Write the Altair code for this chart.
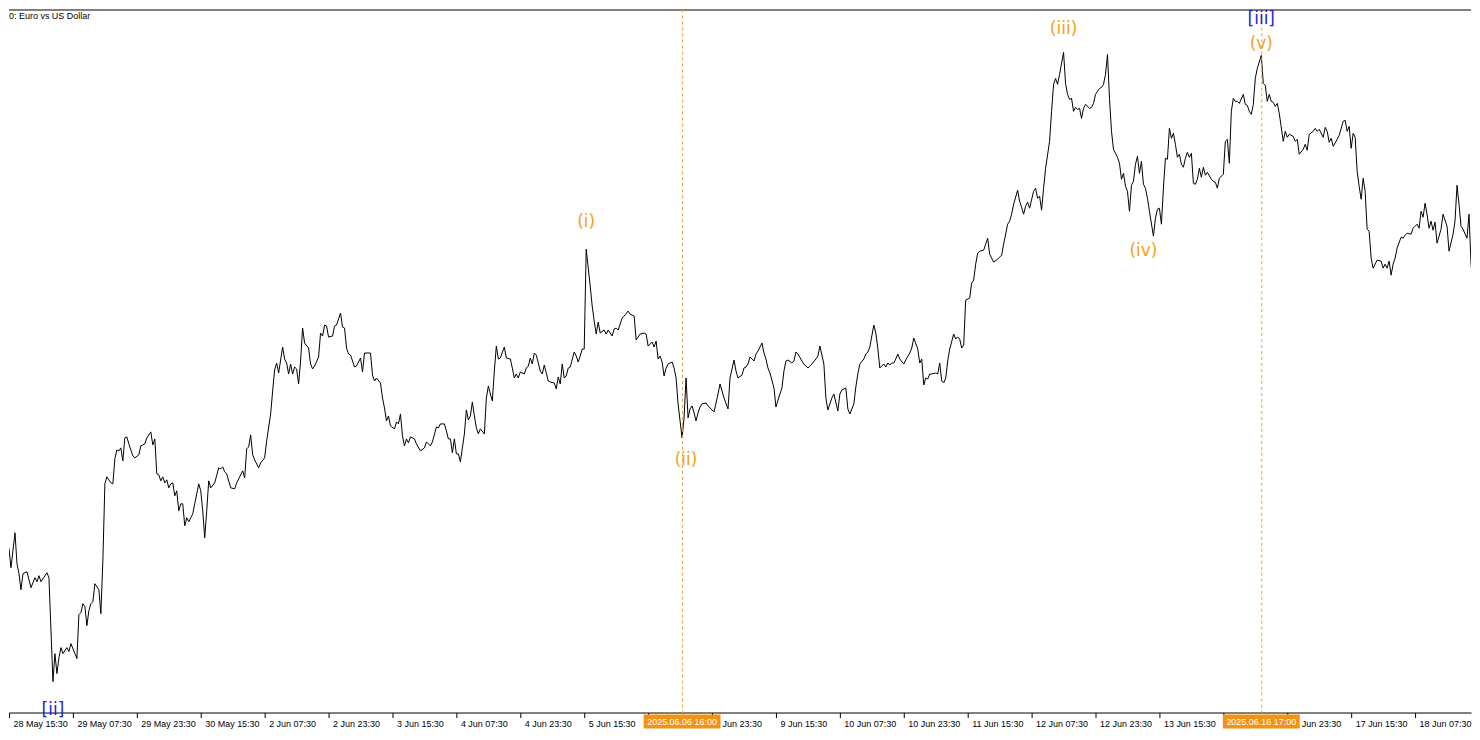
import json
import altair as alt
import pandas as pd

# ---- price series: EURUSD M30 closes (bar index counted from 28 May 15:30, 30-min bars) ----
bars = [
    -3, -1, 0, 1, 3, 4, 5, 6, 7, 9,
    11, 13, 14, 15, 16, 18, 19, 20, 22, 23,
    24, 25, 26, 27, 29, 30, 31, 33, 34, 35,
    36, 37, 38, 39, 40, 41, 42, 43, 45, 46,
    47, 48, 49, 51, 52, 53, 54, 55, 56, 57,
    58, 59, 60, 62, 63, 65, 66, 68, 69, 71,
    72, 73, 74, 75, 76, 77, 78, 79, 80, 81,
    82, 83, 84, 85, 86, 87, 88, 89, 90, 91,
    92, 93, 95, 96, 97, 98, 99, 100, 101, 103,
    105, 106, 107, 108, 109, 111, 113, 114, 115, 117,
    118, 119, 120, 121, 122, 123, 125, 126, 128, 129,
    131, 132, 133, 134, 135, 136, 137, 138, 139, 140,
    141, 142, 143, 144, 145, 146, 147, 148, 150, 151,
    152, 153, 155, 156, 157, 158, 159, 160, 162, 163,
    164, 166, 167, 168, 169, 170, 171, 173, 174, 176,
    177, 178, 181, 182, 183, 184, 186, 187, 188, 189,
    190, 191, 193, 194, 195, 196, 197, 198, 199, 200,
    201, 203, 204, 206, 208, 209, 211, 212, 214, 215,
    216, 218, 219, 220, 221, 222, 223, 224, 225, 226,
    227, 228, 229, 230, 231, 232, 233, 234, 235, 236,
    238, 239, 240, 241, 242, 243, 244, 245, 246, 248,
    249, 251, 252, 253, 254, 255, 256, 258, 259, 260,
    261, 262, 263, 264, 266, 267, 268, 270, 271, 273,
    274, 275, 276, 277, 278, 279, 280, 281, 283, 284,
    285, 286, 287, 288, 289, 291, 292, 293, 294, 295,
    296, 298, 299, 300, 302, 303, 304, 305, 307, 308,
    310, 311, 313, 314, 316, 318, 319, 320, 322, 323,
    324, 325, 326, 327, 328, 329, 330, 332, 333, 334,
    335, 337, 338, 339, 340, 341, 342, 343, 344, 345,
    346, 347, 349, 350, 352, 353, 355, 356, 358, 360,
    361, 363, 364, 365, 367, 368, 369, 370, 371, 373,
    374, 375, 377, 378, 379, 380, 381, 383, 384, 386,
    387, 388, 389, 390, 392, 393, 394, 395, 397, 398,
    400, 402, 404, 405, 406, 408, 409, 410, 412, 413,
    415, 416, 417, 419, 420, 421, 423, 424, 425, 426,
    428, 429, 430, 431, 433, 434, 435, 436, 438, 439,
    440, 441, 442, 443, 444, 445, 446, 448, 449, 451,
    452, 453, 455, 456, 457, 458, 459, 460, 461, 462,
    464, 465, 466, 467, 468, 469, 470, 471, 473, 474,
    475, 476, 477, 478, 479, 481, 482, 483, 484, 485,
    486, 488, 489, 490, 491, 492, 493, 495, 496, 497,
    498, 500, 501, 502, 503, 505, 506, 507, 508, 509,
    510, 511, 513, 514, 515, 516, 517, 518, 519, 521,
    522, 523, 524, 525, 526, 528, 529, 530, 531, 532,
    533, 534, 535, 536, 537, 538, 539, 541, 542, 543,
    544, 546, 547, 548, 549, 550, 551, 552, 553, 554,
    555, 556, 557, 558, 559, 560, 561, 562, 563, 564,
    565, 566, 567, 568, 569, 570, 571, 573, 574, 575,
    576, 577, 578, 579, 580, 581, 582, 583, 584, 585,
    586, 587, 588, 589, 590, 591, 592, 593, 594, 595,
    596, 597, 598, 599, 600, 602, 603, 604, 605, 606,
    608, 609, 610, 611, 612, 613, 614, 615, 616, 618,
    619, 620, 621, 622, 623, 624, 625, 627, 628, 629,
    630, 631, 632, 633, 634, 635, 636, 638, 639, 640,
    641, 643, 644, 645, 646, 648, 649, 650, 651, 653,
    654, 655, 656, 658, 659, 660, 661, 662, 663, 665,
    666, 668, 669, 670, 671, 672, 673, 674, 675, 676,
    677, 678, 679, 680, 681, 682, 683, 684, 685, 687,
    688, 689, 690, 691, 692, 693, 694, 695, 697, 698,
    699, 700, 702, 703, 704, 705, 706, 707, 708, 709,
    710, 711, 712, 713, 714, 715, 717, 718, 720, 721,
    723, 724, 725, 726, 727, 728, 730, 731, 732, 733,
    734, 735, 736,
]

closes = [
    1.1273, 1.1257, 1.1252, 1.1233, 1.1268, 1.1237, 1.1227, 1.1211, 1.1227, 1.1229,
    1.1213, 1.1223, 1.1219, 1.1225, 1.1219, 1.1225, 1.1228, 1.1223, 1.1119, 1.1147,
    1.1127, 1.1143, 1.1153, 1.1147, 1.1153, 1.1149, 1.1157, 1.1147, 1.1142, 1.1186,
    1.1188, 1.1197, 1.1194, 1.1175, 1.1190, 1.1197, 1.1199, 1.1217, 1.1211, 1.1187,
    1.1240, 1.1317, 1.1324, 1.1318, 1.1317, 1.1342, 1.1351, 1.1350, 1.1353, 1.1340,
    1.1363, 1.1364, 1.1357, 1.1345, 1.1343, 1.1346, 1.1355, 1.1357, 1.1363, 1.1369,
    1.1356, 1.1362, 1.1327, 1.1326, 1.1320, 1.1324, 1.1318, 1.1321, 1.1313, 1.1317,
    1.1318, 1.1305, 1.1310, 1.1290, 1.1297, 1.1297, 1.1275, 1.1283, 1.1279, 1.1283,
    1.1287, 1.1297, 1.1317, 1.1310, 1.1290, 1.1263, 1.1290, 1.1320, 1.1313, 1.1318,
    1.1333, 1.1332, 1.1334, 1.1329, 1.1327, 1.1313, 1.1312, 1.1318, 1.1322, 1.1330,
    1.1323, 1.1352, 1.1354, 1.1366, 1.1346, 1.1341, 1.1333, 1.1338, 1.1343, 1.1360,
    1.1387, 1.1410, 1.1431, 1.1438, 1.1428, 1.1441, 1.1454, 1.1442, 1.1438, 1.1427,
    1.1437, 1.1427, 1.1434, 1.1432, 1.1417, 1.1440, 1.1473, 1.1458, 1.1453, 1.1437,
    1.1432, 1.1435, 1.1444, 1.1468, 1.1465, 1.1476, 1.1475, 1.1464, 1.1465, 1.1475,
    1.1476, 1.1488, 1.1474, 1.1473, 1.1453, 1.1447, 1.1446, 1.1434, 1.1435, 1.1443,
    1.1429, 1.1448, 1.1448, 1.1426, 1.1420, 1.1423, 1.1418, 1.1403, 1.1393, 1.1380,
    1.1385, 1.1375, 1.1372, 1.1379, 1.1377, 1.1387, 1.1365, 1.1355, 1.1362, 1.1358,
    1.1364, 1.1362, 1.1357, 1.1350, 1.1353, 1.1359, 1.1355, 1.1359, 1.1374, 1.1373,
    1.1377, 1.1377, 1.1370, 1.1362, 1.1362, 1.1348, 1.1362, 1.1347, 1.1347, 1.1339,
    1.1353, 1.1367, 1.1391, 1.1381, 1.1385, 1.1399, 1.1385, 1.1373, 1.1367, 1.1372,
    1.1367, 1.1403, 1.1415, 1.1407, 1.1400, 1.1430, 1.1455, 1.1442, 1.1443, 1.1454,
    1.1443, 1.1442, 1.1433, 1.1423, 1.1427, 1.1423, 1.1429, 1.1427, 1.1433, 1.1435,
    1.1443, 1.1437, 1.1448, 1.1446, 1.1430, 1.1427, 1.1436, 1.1420, 1.1419, 1.1418,
    1.1412, 1.1424, 1.1417, 1.1437, 1.1423, 1.1425, 1.1433, 1.1434, 1.1449, 1.1445,
    1.1439, 1.1445, 1.1452, 1.1452, 1.1552, 1.1515, 1.1495, 1.1480, 1.1467, 1.1479,
    1.1468, 1.1471, 1.1467, 1.1471, 1.1465, 1.1472, 1.1473, 1.1471, 1.1483, 1.1485,
    1.1490, 1.1487, 1.1485, 1.1461, 1.1467, 1.1468, 1.1467, 1.1455, 1.1459, 1.1454,
    1.1460, 1.1442, 1.1445, 1.1439, 1.1425, 1.1433, 1.1437, 1.1439, 1.1433, 1.1423,
    1.1397, 1.1363, 1.1383, 1.1423, 1.1383, 1.1392, 1.1395, 1.1388, 1.1380, 1.1388,
    1.1394, 1.1397, 1.1398, 1.1395, 1.1391, 1.1389, 1.1407, 1.1417, 1.1403, 1.1392,
    1.1423, 1.1441, 1.1430, 1.1423, 1.1426, 1.1433, 1.1434, 1.1437, 1.1444, 1.1440,
    1.1447, 1.1450, 1.1458, 1.1448, 1.1442, 1.1433, 1.1428, 1.1413, 1.1394, 1.1407,
    1.1413, 1.1430, 1.1440, 1.1441, 1.1438, 1.1440, 1.1449, 1.1447, 1.1440, 1.1437,
    1.1433, 1.1437, 1.1442, 1.1445, 1.1455, 1.1437, 1.1403, 1.1391, 1.1403, 1.1407,
    1.1390, 1.1407, 1.1411, 1.1413, 1.1392, 1.1387, 1.1397, 1.1414, 1.1427, 1.1437,
    1.1442, 1.1447, 1.1449, 1.1454, 1.1476, 1.1468, 1.1453, 1.1433, 1.1437, 1.1434,
    1.1438, 1.1436, 1.1438, 1.1438, 1.1442, 1.1447, 1.1442, 1.1437, 1.1441, 1.1448,
    1.1453, 1.1463, 1.1452, 1.1438, 1.1442, 1.1416, 1.1423, 1.1422, 1.1427, 1.1427,
    1.1428, 1.1427, 1.1438, 1.1420, 1.1418, 1.1423, 1.1440, 1.1452, 1.1467, 1.1462,
    1.1464, 1.1462, 1.1453, 1.1456, 1.1501, 1.1503, 1.1518, 1.1521, 1.1537, 1.1548,
    1.1550, 1.1551, 1.1557, 1.1563, 1.1547, 1.1543, 1.1539, 1.1542, 1.1544, 1.1546,
    1.1557, 1.1577, 1.1580, 1.1587, 1.1597, 1.1611, 1.1600, 1.1594, 1.1587, 1.1595,
    1.1599, 1.1593, 1.1610, 1.1613, 1.1603, 1.1605, 1.1591, 1.1613, 1.1633, 1.1660,
    1.1690, 1.1717, 1.1723, 1.1717, 1.1727, 1.1749, 1.1718, 1.1707, 1.1702, 1.1703,
    1.1690, 1.1694, 1.1692, 1.1693, 1.1683, 1.1693, 1.1697, 1.1693, 1.1694, 1.1698,
    1.1707, 1.1713, 1.1714, 1.1717, 1.1727, 1.1747, 1.1703, 1.1670, 1.1652, 1.1648,
    1.1644, 1.1638, 1.1622, 1.1628, 1.1615, 1.1610, 1.1590, 1.1616, 1.1620, 1.1637,
    1.1645, 1.1628, 1.1640, 1.1617, 1.1613, 1.1603, 1.1590, 1.1565, 1.1583, 1.1592,
    1.1593, 1.1577, 1.1613, 1.1643, 1.1642, 1.1673, 1.1663, 1.1668, 1.1657, 1.1644,
    1.1647, 1.1637, 1.1634, 1.1643, 1.1649, 1.1644, 1.1648, 1.1618, 1.1617, 1.1622,
    1.1633, 1.1624, 1.1634, 1.1626, 1.1629, 1.1622, 1.1620, 1.1619, 1.1613, 1.1623,
    1.1627, 1.1660, 1.1662, 1.1638, 1.1690, 1.1703, 1.1700, 1.1700, 1.1698, 1.1707,
    1.1697, 1.1696, 1.1690, 1.1687, 1.1697, 1.1723, 1.1733, 1.1746, 1.1718, 1.1716,
    1.1700, 1.1707, 1.1700, 1.1699, 1.1695, 1.1698, 1.1688, 1.1660, 1.1670, 1.1664,
    1.1667, 1.1665, 1.1660, 1.1662, 1.1647, 1.1652, 1.1657, 1.1651, 1.1667, 1.1670,
    1.1673, 1.1670, 1.1672, 1.1664, 1.1674, 1.1670, 1.1659, 1.1663, 1.1655, 1.1662,
    1.1666, 1.1680, 1.1681, 1.1670, 1.1675, 1.1653, 1.1668, 1.1664, 1.1630, 1.1615,
    1.1602, 1.1623, 1.1610, 1.1572, 1.1570, 1.1543, 1.1533, 1.1537, 1.1541, 1.1540,
    1.1533, 1.1537, 1.1533, 1.1540, 1.1526, 1.1537, 1.1543, 1.1553, 1.1564, 1.1563,
    1.1566, 1.1568, 1.1567, 1.1573, 1.1575, 1.1577, 1.1573, 1.1590, 1.1584, 1.1598,
    1.1587, 1.1573, 1.1580, 1.1571, 1.1579, 1.1558, 1.1572, 1.1587, 1.1575, 1.1550,
    1.1567, 1.1580, 1.1616, 1.1597, 1.1575, 1.1572, 1.1563, 1.1587, 1.1538, 1.1513,
    1.1525, 1.1530, 1.1532,
]

# ---- time axis: one label every 32 bars (16 trading hours) ----
# labels under the orange time-marker boxes are hidden or shown only in part, as in the picture
tick_labels = [
    "28 May 15:30", "29 May 07:30", "29 May 23:30", "30 May 15:30",
    "2 Jun 07:30", "2 Jun 23:30", "3 Jun 15:30", "4 Jun 07:30",
    "4 Jun 23:30", "5 Jun 15:30", "", "Jun 23:30",
    "9 Jun 15:30", "10 Jun 07:30", "10 Jun 23:30", "11 Jun 15:30",
    "12 Jun 07:30", "12 Jun 23:30", "13 Jun 15:30", "",
    "Jun 23:30", "17 Jun 15:30", "18 Jun 07:30",
]
tick_bars = [32 * k for k in range(len(tick_labels))]

# ---- vertical time markers ----
marker_bars = [337, 627]
marker_labels = ["2025.06.06 16:00", "2025.06.16 17:00"]

# ---- Elliott wave labels ----
wave_text = ["[ii]", "(i)", "(ii)", "(iii)", "(iv)", "(v)", "[iii]"]
wave_bar = [22, 289, 339, 528, 568, 627, 627]
wave_price = [1.1091, 1.1579, 1.1341, 1.1772, 1.1550, 1.1757, 1.1782]
wave_color = ["#1f1fd0", "#f5a024", "#f5a024", "#f5a024", "#f5a024", "#f5a024", "#1f1fd0"]

assert len(bars) == len(closes)

W, H = 1464, 704
ORANGE = "#f5a024"
BOX = "#f39314"
FONT = "Liberation Sans"

df = pd.DataFrame({"bar": bars, "close": closes})
marks_df = pd.DataFrame({"bar": marker_bars, "label": marker_labels})
waves_df = pd.DataFrame({"text": wave_text, "bar": wave_bar, "price": wave_price, "color": wave_color})
one = pd.DataFrame({"k": [0]})

xscale = alt.Scale(domain=[0, 732], nice=False, zero=False)
yscale = alt.Scale(domain=[1.1088, 1.1792], nice=False, zero=False)

label_expr = json.dumps(tick_labels) + "[round(datum.value / 32)]"
label_offset = {
    "condition": [
        {"test": "datum.value == 352", "value": 10},
        {"test": "datum.value == 640", "value": 14},
    ],
    "value": 4,
}
xaxis = alt.Axis(
    title=None, values=tick_bars, labelExpr=label_expr, grid=False,
    domainColor="black", domainWidth=1, tickColor="black", tickSize=5, tickWidth=1,
    labelColor="black", labelFont=FONT, labelFontSize=9, labelAlign="left",
    labelOffset=label_offset, labelPadding=2, labelOverlap=False, labelFlush=False,
)

line = alt.Chart(df).mark_line(color="black", strokeWidth=1, clip=True).encode(
    x=alt.X("bar:Q", scale=xscale, axis=xaxis),
    y=alt.Y("close:Q", scale=yscale, axis=None),
)

top_border = alt.Chart(one).mark_rule(color="black", strokeWidth=1).encode(
    y=alt.value(0.5)
)

vlines = alt.Chart(marks_df).mark_rule(
    color=ORANGE, strokeWidth=1, strokeDash=[3, 3], xOffset=0.5
).encode(
    x=alt.X("bar:Q", scale=xscale, axis=xaxis)
)

boxes = alt.Chart(marks_df).transform_calculate(
    lo="datum.bar - 19.25", hi="datum.bar + 19.25"
).mark_rect(color=BOX).encode(
    x=alt.X("lo:Q", scale=xscale, axis=xaxis),
    x2="hi:Q",
    y=alt.value(H + 2),
    y2=alt.value(H + 16),
)

box_text = alt.Chart(marks_df).mark_text(
    color="white", font=FONT, fontSize=9, align="center", baseline="middle"
).encode(
    x=alt.X("bar:Q", scale=xscale, axis=xaxis),
    y=alt.value(H + 9.5),
    text="label:N",
)

waves = alt.Chart(waves_df).mark_text(
    font="DejaVu Sans", fontSize=17, align="center", baseline="middle"
).encode(
    x=alt.X("bar:Q", scale=xscale, axis=xaxis),
    y=alt.Y("price:Q", scale=yscale, axis=None),
    text="text:N",
    color=alt.Color("color:N", scale=None),
)

title = alt.Chart(one).mark_text(
    font=FONT, fontSize=9, align="left", baseline="alphabetic", color="black"
).encode(
    x=alt.value(0), y=alt.value(10), text=alt.value("0:  Euro vs US Dollar")
)

chart = alt.layer(line, top_border, vlines, boxes, box_text, waves, title).properties(
    width=W, height=H, padding=0, background="white"
).configure_view(stroke=None)

chart.save("out.html", embed_options={"renderer": "svg", "actions": False})
